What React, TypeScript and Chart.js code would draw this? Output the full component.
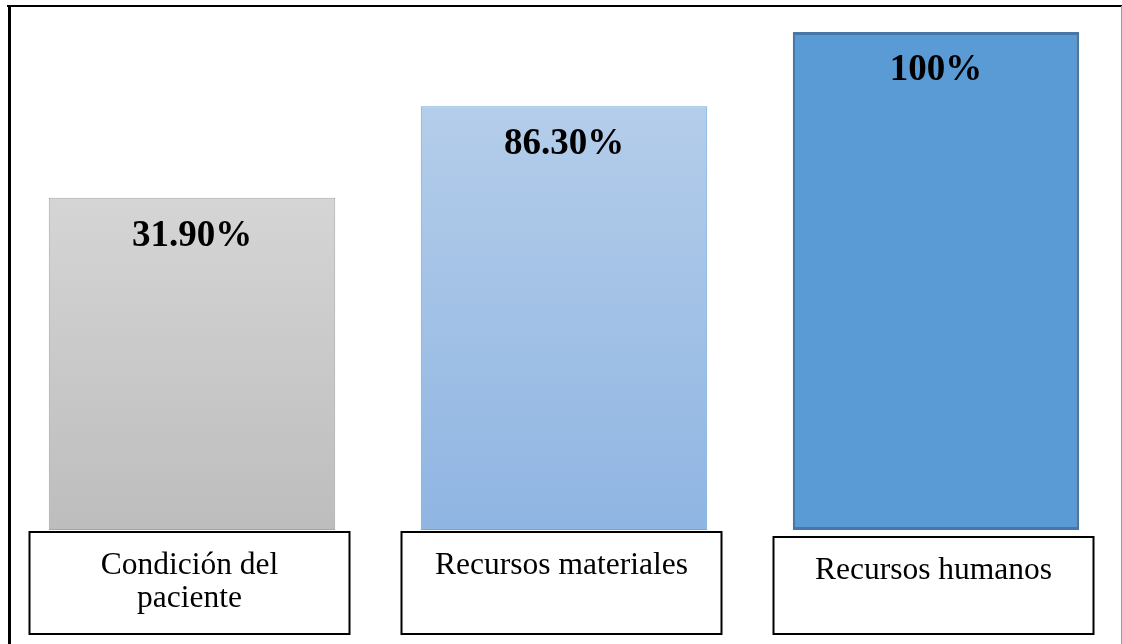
import React, { useEffect, useRef } from "react";
import { Chart, registerables } from "chart.js";

Chart.register(...registerables);

// Categories (multi-line labels shown in boxes under the bars)
const categories: string[][] = [
  ["Condición del", "paciente"],
  ["Recursos materiales"],
  ["Recursos humanos"],
];
// Printed values on the bars
const valueLabels: string[] = ["31.90%", "86.30%", "100%"];
// Bar heights as drawn in the original graphic (relative to tallest bar = 100);
// the source figure does not draw its bars to scale.
const barHeights: number[] = [66.7, 85.1, 100];

const gradientStops: [string, string][] = [
  ["#d5d5d5", "#bdbdbd"],
  ["#b4cdea", "#8fb5e2"],
  ["#5b9bd5", "#5b9bd5"],
];
const borderColors = ["#a6a6a6", "#6fa8dc", "#4677a6"];
const borderWidths = [1, 1, 3];

const SERIF = '"Liberation Serif", "Times New Roman", serif';

const decorPlugin = {
  id: "decor",
  afterDatasetsDraw(chart: any) {
    const ctx = chart.ctx as CanvasRenderingContext2D;
    const meta = chart.getDatasetMeta(0);
    ctx.save();
    // value labels
    ctx.fillStyle = "#000";
    ctx.font = `bold 37px ${SERIF}`;
    ctx.textAlign = "center";
    ctx.textBaseline = "alphabetic";
    meta.data.forEach((bar: any, i: number) => {
      ctx.fillText(valueLabels[i], bar.x, bar.y + 48);
    });
    // category boxes + labels
    const boxTopShift = [0, 0, 5];
    meta.data.forEach((bar: any, i: number) => {
      const cx = bar.x - 2.5;
      const w = 320;
      const top = chart.chartArea.bottom + 2 + boxTopShift[i];
      const bottom = 634;
      ctx.strokeStyle = "#000";
      ctx.lineWidth = 2;
      ctx.strokeRect(cx - w / 2, top, w, bottom - top);
      ctx.font = `31.5px ${SERIF}`;
      ctx.fillStyle = "#000";
      ctx.textAlign = "center";
      categories[i].forEach((line, j) => {
        ctx.fillText(line, cx, top + 42 + j * 33);
      });
    });
    // outer frame
    ctx.strokeStyle = "#000";
    ctx.lineWidth = 2;
    ctx.beginPath();
    ctx.moveTo(7, 6);
    ctx.lineTo(1122, 6);
    ctx.stroke();
    ctx.lineWidth = 3;
    ctx.beginPath();
    ctx.moveTo(9.5, 5);
    ctx.lineTo(9.5, 644);
    ctx.stroke();
    ctx.strokeStyle = "#9a9a9a";
    ctx.lineWidth = 1;
    ctx.beginPath();
    ctx.moveTo(1121.5, 6);
    ctx.lineTo(1121.5, 644);
    ctx.stroke();
    ctx.restore();
  },
};

export default function App() {
  const ref = useRef<HTMLCanvasElement | null>(null);
  useEffect(() => {
    if (!ref.current) return;
    const chart = new Chart(ref.current, {
      type: "bar",
      data: {
        labels: categories.map((c) => c.join(" ")),
        datasets: [
          {
            data: barHeights,
            backgroundColor: (c: any) => {
              const chartObj = c.chart;
              const area = chartObj.chartArea;
              const i = c.dataIndex ?? 0;
              const stops = gradientStops[i] || gradientStops[0];
              if (!area || !chartObj.scales?.y) return stops[0];
              const y = chartObj.scales.y;
              const top = y.getPixelForValue(barHeights[i]);
              const base = y.getPixelForValue(0);
              const g = chartObj.ctx.createLinearGradient(0, top, 0, base);
              g.addColorStop(0, stops[0]);
              g.addColorStop(1, stops[1]);
              return g;
            },
            borderColor: borderColors,
            borderWidth: borderWidths,
            borderSkipped: false,
            categoryPercentage: 1,
            barPercentage: 0.77,
          },
        ],
      },
      options: {
        responsive: true,
        maintainAspectRatio: false,
        animation: false,
        layout: { padding: { top: 32, bottom: 114, left: 6, right: 0 } },
        plugins: {
          legend: { display: false },
          tooltip: { enabled: false },
        },
        scales: {
          x: { display: false },
          y: { display: false, min: 0, max: 100 },
        },
      },
      plugins: [decorPlugin],
    });
    return () => chart.destroy();
  }, []);
  return (
    <div
      style={{
        position: "fixed",
        left: 0,
        top: 0,
        width: 1122,
        height: 644,
        background: "#fff",
      }}
    >
      <canvas ref={ref} />
    </div>
  );
}
